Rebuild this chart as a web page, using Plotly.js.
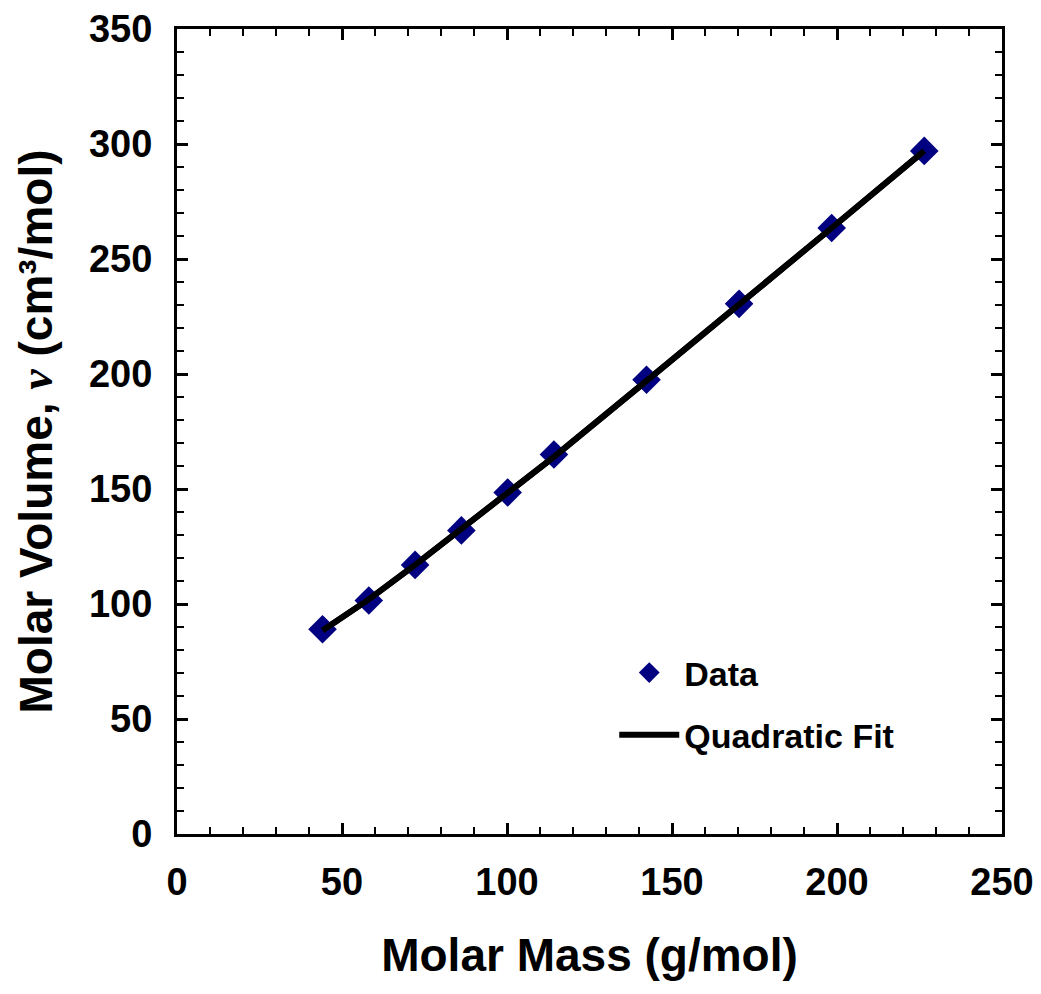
<!DOCTYPE html>
<html>
<head>
<meta charset="utf-8">
<script src="https://cdn.plot.ly/plotly-3.0.1.min.js"></script>
<style>html,body{margin:0;padding:0;background:#fff;}#chart{width:1041px;height:994px;}</style>
</head>
<body>
<div id="chart"></div>
<script>
// n-alkanes, propane .. hexadecane
const molarMass = [44.10, 58.12, 72.15, 86.18, 100.20, 114.23, 142.28, 170.33, 198.39, 226.44];
const molarVolume = [89.0, 101.5, 117.0, 132.0, 148.5, 165.0, 197.5, 230.5, 263.5, 297.0];
const fitMass = [44.10, 58.12, 72.15, 86.18, 100.20, 114.23, 142.28, 170.33, 198.39, 226.44];
const fitVolume = [88.5, 102.0, 117.0, 132.5, 148.0, 164.0, 197.0, 230.0, 263.5, 297.0];
const seriesNames = ["Data", "Quadratic Fit"];

const font = "Liberation Sans, Arial, sans-serif";

const traces = [
  {x: fitMass, y: fitVolume, mode: "lines", name: seriesNames[1],
   line: {color: "#000000", width: 6}, showlegend: false},
  {x: molarMass, y: molarVolume, mode: "markers", name: seriesNames[0], legendgroup: "a",
   marker: {symbol: "diamond", color: "#000080", size: 22, line: {width: 0}}},
  {x: fitMass, y: fitVolume, mode: "lines", name: seriesNames[1], legendgroup: "b",
   line: {color: "#000000", width: 6}}
];

const axisCommon = {
  showline: true, linecolor: "#000", linewidth: 3, mirror: "ticks",
  ticks: "inside", ticklen: 11, tickwidth: 3, tickcolor: "#000",
  showgrid: false, zeroline: false,
  tickfont: {family: font, size: 38, color: "#000", weight: "bold"},
  minor: {dtick: 10, ticks: "inside", ticklen: 7, tickwidth: 2.5, tickcolor: "#000", showgrid: false}
};

const layout = {
  width: 1041, height: 994,
  margin: {l: 177, r: 39, t: 29, b: 160},
  paper_bgcolor: "#fff", plot_bgcolor: "#fff",
  font: {family: font, color: "#000"},
  showlegend: true,
  legend: {x: 0.53, y: 0.236, xanchor: "left", yanchor: "top",
           bgcolor: "rgba(0,0,0,0)", borderwidth: 0,
           font: {family: font, size: 34, color: "#000", weight: "bold"},
           traceorder: "grouped", itemwidth: 60, tracegroupgap: 15},
  xaxis: Object.assign({}, axisCommon, {
    range: [0, 250], dtick: 50, tick0: 0, ticklabelstandoff: 12,
    title: {text: "<b>Molar Mass (g/mol)</b>", font: {family: font, size: 46, color: "#000"}, standoff: 38}
  }),
  yaxis: Object.assign({}, axisCommon, {
    range: [0, 350], dtick: 50, tick0: 0, ticklabelstandoff: 14,
    title: {text: "<b>Molar Volume, <i><span style=\"font-family:Liberation Serif\">ν</span></i> (cm³/mol)</b>", font: {family: font, size: 46, color: "#000"}, standoff: 22}
  })
};

Plotly.newPlot("chart", traces, layout, {displayModeBar: false, staticPlot: true});
</script>
</body>
</html>
